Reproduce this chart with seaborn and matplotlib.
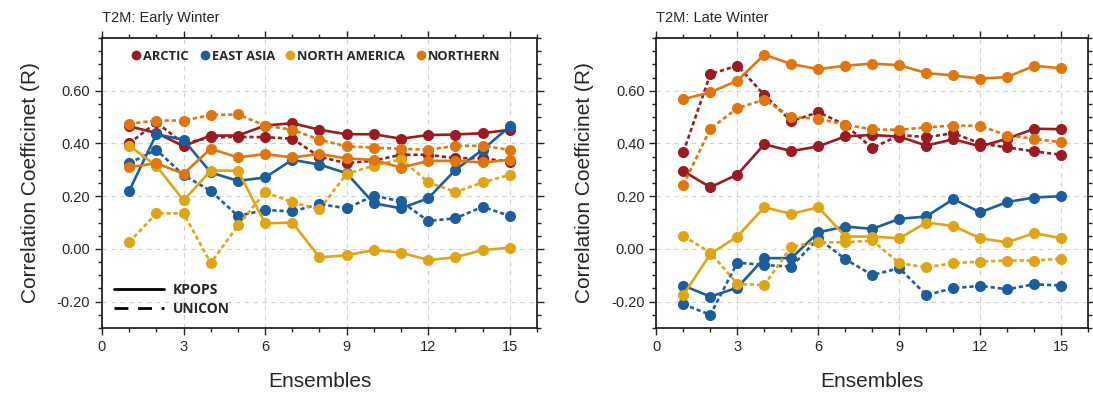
import numpy as np
import pandas as pd
import seaborn as sns
import matplotlib.pyplot as plt
from matplotlib.lines import Line2D
from matplotlib.ticker import MultipleLocator

# ---- data -------------------------------------------------------------
ensembles = list(range(1, 16))
regions = ["ARCTIC", "EAST ASIA", "NORTH AMERICA", "NORTHERN"]
experiments = ["KPOPS", "UNICON"]
panel_titles = ["T2M: Early Winter", "T2M: Late Winter"]

# Early winter
early_arctic_kpops = [0.465, 0.44, 0.39, 0.43, 0.43, 0.468, 0.477, 0.452, 0.435, 0.435, 0.418, 0.432, 0.434, 0.439, 0.452]
early_arctic_unicon = [0.40, 0.48, 0.40, 0.423, 0.425, 0.424, 0.418, 0.35, 0.325, 0.335, 0.357, 0.357, 0.344, 0.344, 0.33]
early_eastasia_kpops = [0.22, 0.435, 0.414, 0.29, 0.258, 0.271, 0.338, 0.32, 0.287, 0.173, 0.154, 0.192, 0.30, 0.376, 0.465]
early_eastasia_unicon = [0.325, 0.376, 0.28, 0.22, 0.125, 0.148, 0.142, 0.170, 0.154, 0.202, 0.18, 0.106, 0.116, 0.16, 0.125]
early_namerica_kpops = [0.392, 0.315, 0.184, 0.297, 0.297, 0.097, 0.10, -0.032, -0.024, -0.004, -0.014, -0.042, -0.032, -0.004, 0.004]
early_namerica_unicon = [0.025, 0.135, 0.135, -0.054, 0.089, 0.215, 0.177, 0.15, 0.285, 0.316, 0.34, 0.253, 0.216, 0.252, 0.281]
early_northern_kpops = [0.31, 0.325, 0.285, 0.38, 0.347, 0.36, 0.347, 0.36, 0.343, 0.338, 0.308, 0.334, 0.334, 0.328, 0.338]
early_northern_unicon = [0.475, 0.487, 0.487, 0.508, 0.51, 0.468, 0.452, 0.414, 0.389, 0.384, 0.38, 0.376, 0.391, 0.391, 0.376]

# Late winter
late_arctic_kpops = [0.295, 0.234, 0.282, 0.397, 0.371, 0.389, 0.427, 0.432, 0.426, 0.392, 0.416, 0.389, 0.418, 0.456, 0.454]
late_arctic_unicon = [0.367, 0.663, 0.695, 0.584, 0.484, 0.519, 0.47, 0.382, 0.432, 0.424, 0.439, 0.40, 0.385, 0.37, 0.357]
late_eastasia_kpops = [-0.139, -0.181, -0.147, -0.035, -0.035, 0.063, 0.085, 0.076, 0.114, 0.123, 0.189, 0.139, 0.178, 0.195, 0.20]
late_eastasia_unicon = [-0.21, -0.25, -0.052, -0.061, -0.067, 0.04, -0.039, -0.099, -0.073, -0.175, -0.149, -0.14, -0.153, -0.134, -0.139]
late_namerica_kpops = [-0.175, -0.019, 0.047, 0.158, 0.133, 0.158, 0.047, 0.047, 0.04, 0.10, 0.087, 0.04, 0.025, 0.06, 0.04]
late_namerica_unicon = [0.049, -0.014, -0.133, -0.137, 0.009, 0.025, 0.025, 0.032, -0.054, -0.07, -0.054, -0.048, -0.044, -0.044, -0.037]
late_northern_kpops = [0.568, 0.594, 0.638, 0.737, 0.701, 0.682, 0.695, 0.703, 0.697, 0.667, 0.658, 0.646, 0.652, 0.695, 0.685]
late_northern_unicon = [0.243, 0.456, 0.534, 0.566, 0.50, 0.494, 0.471, 0.453, 0.452, 0.461, 0.468, 0.467, 0.43, 0.418, 0.404]

palette = {"ARCTIC": "#9a1c20", "EAST ASIA": "#1c5d9e",
           "NORTH AMERICA": "#e0a417", "NORTHERN": "#e0760f"}


def long_table(series):
    rows = []
    for (region, exp), vals in series.items():
        for e, v in zip(ensembles, vals):
            rows.append({"Ensemble": e, "R": v, "Region": region, "Experiment": exp})
    return pd.DataFrame(rows)


early = long_table({
    ("ARCTIC", "KPOPS"): early_arctic_kpops, ("ARCTIC", "UNICON"): early_arctic_unicon,
    ("EAST ASIA", "KPOPS"): early_eastasia_kpops, ("EAST ASIA", "UNICON"): early_eastasia_unicon,
    ("NORTH AMERICA", "KPOPS"): early_namerica_kpops, ("NORTH AMERICA", "UNICON"): early_namerica_unicon,
    ("NORTHERN", "KPOPS"): early_northern_kpops, ("NORTHERN", "UNICON"): early_northern_unicon,
})
late = long_table({
    ("ARCTIC", "KPOPS"): late_arctic_kpops, ("ARCTIC", "UNICON"): late_arctic_unicon,
    ("EAST ASIA", "KPOPS"): late_eastasia_kpops, ("EAST ASIA", "UNICON"): late_eastasia_unicon,
    ("NORTH AMERICA", "KPOPS"): late_namerica_kpops, ("NORTH AMERICA", "UNICON"): late_namerica_unicon,
    ("NORTHERN", "KPOPS"): late_northern_kpops, ("NORTHERN", "UNICON"): late_northern_unicon,
})

# ---- style ------------------------------------------------------------
sns.set_style("ticks")
plt.rcParams["font.family"] = ["Liberation Sans", "DejaVu Sans"]

fig = plt.figure(figsize=(10.93, 3.94), dpi=100)
ax1 = fig.add_axes([0.0933, 0.1675, 0.398, 0.736])
ax2 = fig.add_axes([0.6005, 0.1675, 0.3952, 0.736])

for ax, df, title in zip([ax1, ax2], [early, late], panel_titles):
    ax.set_xlim(0, 16)
    ax.set_ylim(-0.3, 0.8)
    ax.xaxis.set_major_locator(MultipleLocator(3))
    ax.xaxis.set_minor_locator(MultipleLocator(1))
    ax.yaxis.set_major_locator(MultipleLocator(0.2))
    ax.yaxis.set_minor_locator(MultipleLocator(0.05))
    ax.grid(True, which="major", color="#d0d0d0", linestyle=(0, (4, 4)), linewidth=0.8)
    ax.set_axisbelow(True)

    sns.lineplot(data=df, x="Ensemble", y="R", hue="Region", style="Experiment",
                 hue_order=regions, style_order=experiments, palette=palette,
                 markers={"KPOPS": "o", "UNICON": "o"},
                 dashes={"KPOPS": "", "UNICON": (1.6, 1.1)},
                 markersize=8, markeredgewidth=0, linewidth=1.9,
                 legend=False, ax=ax)

    ax.set_yticks([-0.2, 0.0, 0.2, 0.4, 0.6])
    ax.set_yticklabels(["-0.20", "0.00", "0.20", "0.40", "0.60"])
    ax.set_xticks([0, 3, 6, 9, 12, 15])
    ax.tick_params(which="both", direction="out", top=True, right=True,
                   labelsize=10.5, width=1.0, color="#222222")
    ax.tick_params(which="major", length=5)
    ax.tick_params(which="minor", length=3)
    for sp in ax.spines.values():
        sp.set_linewidth(1.3)
        sp.set_color("#222222")
    ax.set_xlabel("Ensembles", fontsize=15, labelpad=13)
    ax.set_ylabel("Correlation Coefficinet (R)", fontsize=15, labelpad=12)
    ax.text(0.0, 1.07, title, transform=ax.transAxes, ha="left", va="center",
            fontsize=10.5)

# region legend (markers only)
region_handles = [Line2D([], [], marker="o", linestyle="none", markersize=7,
                         markerfacecolor=palette[r], markeredgewidth=0)
                  for r in regions]
leg1 = ax1.legend(region_handles, regions, loc="upper center", ncol=4,
                  bbox_to_anchor=(0.49, 1.0), frameon=False,
                  handletextpad=0.05, columnspacing=0.7, handlelength=1.0,
                  prop={"family": "Open Sans", "weight": "bold", "size": 9.3})
ax1.add_artist(leg1)

# experiment legend (line styles)
style_handles = [Line2D([], [], color="black", linewidth=2.0, linestyle="-"),
                 Line2D([], [], color="black", linewidth=2.0, linestyle=(0, (5, 3.5)))]
ax1.legend(style_handles, experiments, loc="lower left", bbox_to_anchor=(0.0, 0.0),
           frameon=False, handlelength=3.6, handletextpad=0.6, labelspacing=0.3,
           prop={"family": "Open Sans", "weight": "bold", "size": 10})

fig.savefig("out.png", dpi=100)
